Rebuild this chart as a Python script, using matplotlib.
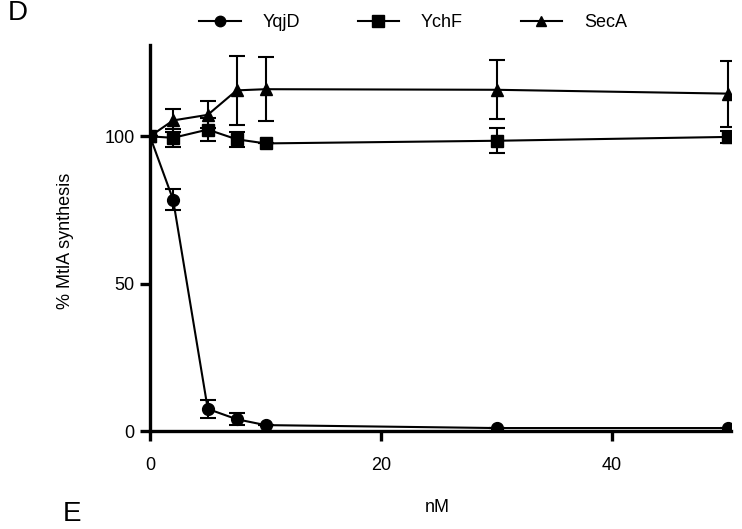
import matplotlib
matplotlib.use("Agg")
import matplotlib.pyplot as plt
from matplotlib.lines import Line2D

plt.rcParams['font.family'] = ['Liberation Sans', 'DejaVu Sans']

# concentrations (nM)
conc = [0, 2, 5, 7.5, 10, 30, 50]

# % MtlA synthesis, mean and error
yqjd = [100, 78.5, 7.5, 4.0, 2.0, 1.0, 1.0]
yqjd_err = [0, 3.5, 3.0, 2.0, 0, 0, 0]

ychf = [100, 99.5, 102.3, 99.0, 97.6, 98.5, 99.8]
ychf_err = [0, 3.0, 4.0, 2.5, 0, 4.3, 2.0]

seca = [100, 105.4, 107.3, 115.6, 116.0, 115.8, 114.5]
seca_err = [0, 4.0, 4.6, 11.8, 10.8, 10.0, 11.2]

series = [
    ("YqjD", yqjd, yqjd_err, "o", 8.5),
    ("YchF", ychf, ychf_err, "s", 9),
    ("SecA", seca, seca_err, "^", 8.5),
]

fig = plt.figure(figsize=(7.42, 5.29), dpi=100)
ax = fig.add_axes([150 / 742, 98 / 529, 581 / 742, 386 / 529])

handles = []
for name, vals, err, mk, ms in series:
    ax.errorbar(conc, vals, yerr=err, color="black", marker=mk, markersize=ms,
                linewidth=1.5, elinewidth=1.5, capsize=6, capthick=1.5)
    handles.append(Line2D([], [], color="black", marker=mk, markersize=ms - 1,
                          linewidth=1.5))

ax.set_xlim(0, 50.3)
ax.set_ylim(0, 131)
ax.set_xticks([0, 20, 40])
ax.set_yticks([0, 50, 100])

for side in ("top", "right"):
    ax.spines[side].set_visible(False)
for side in ("left", "bottom"):
    ax.spines[side].set_linewidth(2.4)
ax.tick_params(axis="both", direction="out", length=7, width=2.4, labelsize=13)
ax.tick_params(axis="x", pad=12)
ax.tick_params(axis="y", pad=4)

fig.text(437 / 742, 1 - 507 / 529, "nM", ha="center", va="center", fontsize=13)
fig.text(66 / 742, 1 - 241 / 529, "% MtlA synthesis", ha="center", va="center",
         rotation=90, fontsize=13)

fig.legend(handles=handles, labels=[s[0] for s in series], loc="center",
           bbox_to_anchor=(413 / 742, 1 - 22.7 / 529), ncol=3, frameon=False,
           fontsize=13, handlelength=2.3, handletextpad=1.2, columnspacing=3.2)

fig.text(8 / 742, 1 - 13 / 529, "D", ha="left", va="center", fontsize=20)
fig.text(63 / 742, 1 - 514 / 529, "E", ha="left", va="center", fontsize=20)

fig.savefig("out.png", dpi=100)
